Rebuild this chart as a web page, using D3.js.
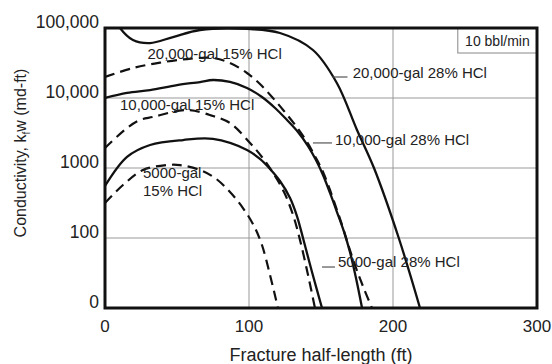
<!DOCTYPE html>
<html>
<head>
<meta charset="utf-8">
<script src="https://cdn.jsdelivr.net/npm/d3@7"></script>
<style>
  body { margin: 0; background: #fff; }
  text { font-family: "Liberation Sans", Arial, sans-serif; fill: #222; }
</style>
</head>
<body>
<svg width="552" height="364"></svg>
<script>
// axis ticks
const xTicks = [0, 100, 200, 300];
const yTicks = [10, 100, 1000, 10000, 100000];
const yTickLabels = ["0", "100", "1000", "10,000", "100,000"];

// fracture half-length (ft) / conductivity (md-ft)
const gal20k28X = [0, 5, 10.4, 19.4, 31.3, 47.2, 66, 98.6, 121.5, 144.4, 161, 175, 186.8, 204, 218.75];
const gal20k28Y = [300000, 160000, 100000, 67400, 61000, 74300, 93600, 97000, 84900, 48500, 16400, 3490, 1000, 100, 10];

const gal20k15X = [0, 19.4, 38.2, 57, 75, 86.8, 98.6, 107.6, 116, 124.3, 132.6, 140.3, 146.5, 151.4, 156.25, 161.1, 165.3, 169.4, 174.3, 179.9, 185.4];
const gal20k15Y = [20000, 26800, 32000, 36000, 37300, 31600, 22750, 15850, 10330, 6520, 3980, 2350, 1390, 877, 485, 251, 139, 74.3, 37.3, 18.7, 10];

const gal10k28X = [0, 15.3, 31.3, 50, 66, 75, 86.8, 98.6, 109, 118.1, 126.4, 134, 141, 146.5, 151.4, 156.25, 161.1, 166, 170.1, 174.3, 178.5];
const gal10k28Y = [10000, 11800, 13000, 15300, 16900, 18080, 16930, 13900, 10330, 7200, 4850, 3270, 2060, 1300, 794, 440, 235, 122, 63, 26.8, 10];

const gal10k15X = [0, 15.3, 24.3, 33.3, 57, 75, 86.8, 100.7, 109, 116.7, 124.3, 130.6, 135.4, 141, 145.8];
const gal10k15Y = [1930, 3730, 4850, 5360, 6740, 5530, 4390, 2280, 1436, 849, 454, 213, 94, 29.6, 10];

const gal5k28X = [0, 15.3, 31.3, 54.2, 75, 98.6, 107.6, 114.6, 121.5, 128.5, 133.3, 137.5, 143.75, 150.7];
const gal5k28Y = [553, 1440, 2130, 2510, 2600, 1810, 1345, 968, 652, 373, 206, 100, 32.7, 10];

const gal5k15X = [0, 12.5, 26.4, 43, 52, 66, 76.4, 86.8, 95.8, 103.5, 109, 114.6, 120.1];
const gal5k15Y = [316, 571, 936, 1100, 1100, 936, 720, 454, 268, 148, 79.4, 29.6, 10];

const margin = { left: 105, top: 28, right: 15, bottom: 56 };
const width = 552, height = 364;

const svg = d3.select("svg");
const x = d3.scaleLinear().domain([0, 300]).range([margin.left, width - margin.right]);
const y = d3.scaleLog().domain([10, 100000]).range([height - margin.bottom, margin.top]);

svg.append("clipPath").attr("id", "plot")
  .append("rect")
  .attr("x", x(0)).attr("y", y(100000))
  .attr("width", x(300) - x(0)).attr("height", y(10) - y(100000));

// grid
svg.append("g").selectAll("line").data([100, 200]).join("line")
  .attr("x1", d => x(d)).attr("x2", d => x(d))
  .attr("y1", y(100000)).attr("y2", y(10))
  .attr("stroke", "#999").attr("stroke-width", 1);
svg.append("g").selectAll("line").data([100, 1000, 10000]).join("line")
  .attr("x1", x(0)).attr("x2", x(300))
  .attr("y1", d => y(d)).attr("y2", d => y(d))
  .attr("stroke", "#999").attr("stroke-width", 1);

// curves
const series = [
  { xs: gal20k28X, ys: gal20k28Y, dashed: false },
  { xs: gal20k15X, ys: gal20k15Y, dashed: true },
  { xs: gal10k28X, ys: gal10k28Y, dashed: false },
  { xs: gal10k15X, ys: gal10k15Y, dashed: true },
  { xs: gal5k28X, ys: gal5k28Y, dashed: false },
  { xs: gal5k15X, ys: gal5k15Y, dashed: true }
];
const line = d3.line()
  .x(d => x(d[0])).y(d => y(d[1]))
  .curve(d3.curveCatmullRom.alpha(0.5));

svg.append("g").attr("clip-path", "url(#plot)")
  .selectAll("path").data(series).join("path")
  .attr("d", s => line(d3.zip(s.xs, s.ys)))
  .attr("fill", "none")
  .attr("stroke", "#111")
  .attr("stroke-width", s => s.dashed ? 2.2 : 2.3)
  .attr("stroke-dasharray", s => s.dashed ? "10,6" : null);

// tick labels
svg.append("g").selectAll("text").data(xTicks).join("text")
  .attr("x", d => x(d)).attr("y", y(10) + 24)
  .attr("text-anchor", "middle").attr("font-size", 17)
  .text(d => d);
svg.append("g").selectAll("text").data(yTicks).join("text")
  .attr("x", x(0) - 6).attr("y", d => y(d))
  .attr("text-anchor", "end").attr("font-size", 17.5)
  .text((d, i) => yTickLabels[i]);

// axis titles
svg.append("text")
  .attr("x", (x(0) + x(300)) / 2).attr("y", 361)
  .attr("text-anchor", "middle").attr("font-size", 18)
  .text("Fracture half-length (ft)");
const yt = svg.append("text")
  .attr("transform", "translate(26,153) rotate(-90)")
  .attr("text-anchor", "middle").attr("font-size", 16);
yt.append("tspan").text("Conductivity, k");
yt.append("tspan").attr("font-size", 10).attr("dy", 4).text("f");
yt.append("tspan").attr("dy", -4).text("w (md-ft)");

// curve labels (positions in data units)
const labels = [
  { t: "20,000-gal 15% HCl", lx: 29.5, ly: 36600 },
  { t: "10,000-gal 15% HCl", lx: 10.4, ly: 6740 },
  { t: "20,000-gal 28% HCl", lx: 172, ly: 19300 },
  { t: "10,000-gal 28% HCl", lx: 159.7, ly: 2130 },
  { t: "5000-gal 28% HCl", lx: 161.8, ly: 38.5 },
  { t: "5000-gal", lx: 26.4, ly: 720 },
  { t: "15% HCl", lx: 26.4, ly: 400 }
];
svg.append("g").selectAll("text").data(labels).join("text")
  .attr("x", d => x(d.lx)).attr("y", d => y(d.ly))
  .attr("font-size", 15)
  .text(d => d.t);

const leaders = [
  { x1: 158, x2: 168.4, ly: 19950 },
  { x1: 144.4, x2: 157.6, ly: 2280 },
  { x1: 150.7, x2: 159.7, ly: 38.5 }
];
svg.append("g").selectAll("line").data(leaders).join("line")
  .attr("x1", d => x(d.x1)).attr("x2", d => x(d.x2))
  .attr("y1", d => y(d.ly)).attr("y2", d => y(d.ly))
  .attr("stroke", "#555").attr("stroke-width", 1.2);

// rate box
svg.append("rect")
  .attr("x", x(245)).attr("y", y(100000))
  .attr("width", x(300) - x(245)).attr("height", 25)
  .attr("fill", "#fff").attr("stroke", "#888").attr("stroke-width", 1);
svg.append("text")
  .attr("x", (x(245) + x(300)) / 2).attr("y", y(100000) + 18)
  .attr("text-anchor", "middle").attr("font-size", 14)
  .text("10 bbl/min");

// frame
svg.append("rect")
  .attr("x", x(0)).attr("y", y(100000))
  .attr("width", x(300) - x(0)).attr("height", y(10) - y(100000))
  .attr("fill", "none").attr("stroke", "#111").attr("stroke-width", 3);
</script>
</body>
</html>
